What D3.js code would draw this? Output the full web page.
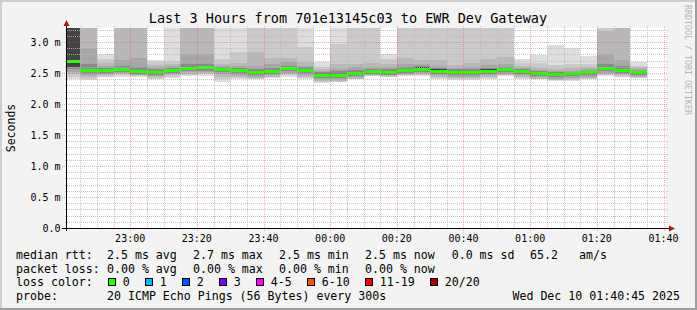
<!DOCTYPE html>
<meta charset="utf-8">
<style>
body { margin: 0; background: #f3f3f3; }
svg { display: block; font-family: 'DejaVu Sans Mono', monospace; }
.minor { stroke: #b8b8b8; stroke-opacity: .8; stroke-dasharray: 1,1; shape-rendering: crispEdges; }
.major { stroke: #ff4040; stroke-opacity: .45; stroke-dasharray: 1,1; shape-rendering: crispEdges; }
.tick { font-size: 10px; fill: #000; }
.legend { font-size: 11.6px; fill: #000; }
</style>
<body>
<svg id="chart" width="697" height="310"></svg>
<script src="https://d3js.org/d3.v7.min.js"></script>
<script>

// one column per 300s step, first one is cut by the window start
var median = [2.69, 2.55, 2.55, 2.565, 2.53, 2.51, 2.55, 2.58, 2.59, 2.565, 2.55, 2.51, 2.53, 2.575, 2.55, 2.47, 2.47, 2.50,
              2.535, 2.52, 2.55, 2.57, 2.54, 2.52, 2.52, 2.54, 2.56, 2.54, 2.50, 2.48, 2.495, 2.515, 2.575, 2.55, 2.52];

// smoke, upper edges (outer -> inner), 3.4 = off the top of the graph
var hi1 = [3.4, 3.4, 2.81, 3.4, 3.4, 2.715, 3.4, 3.4, 3.4, 3.4, 3.4, 3.4, 3.4, 3.4, 3.4, 2.67, 3.4, 3.4,
           3.4, 2.81, 3.4, 3.4, 3.4, 3.4, 3.4, 3.4, 3.4, 2.725, 2.795, 2.956, 2.90, 2.78, 3.4, 3.4, 2.68];
var hi2 = [3.4, 3.4, 2.725, 3.4, 3.4, 2.67, 2.70, 3.4, 3.4, 2.73, 2.84, 3.4, 3.4, 3.4, 2.915, 2.59, 2.97, 3.4,
           3.4, 2.72, 3.4, 3.4, 3.4, 3.4, 3.4, 3.4, 3.4, 2.66, 2.66, 2.63, 2.64, 2.65, 3.4, 3.4, 2.62];
var hi3 = [3.4, 3.4, 2.66, 3.4, 3.4, 2.63, 2.64, 3.4, 3.4, 2.65, 2.66, 2.84, 2.75, 2.75, 2.67, 2.56, 2.64, 2.645,
           2.66, 2.64, 2.74, 2.71, 2.71, 2.63, 2.66, 2.72, 2.76, 2.61, 2.58, 2.57, 2.58, 2.59, 3.17, 3.4, 2.59];
var hi4 = [3.4, 2.91, 2.61, 2.71, 2.75, 2.60, 2.61, 2.81, 2.80, 2.62, 2.61, 2.62, 2.65, 2.67, 2.62, 2.54, 2.57, 2.59,
           2.60, 2.60, 2.64, 2.64, 2.62, 2.58, 2.59, 2.63, 2.65, 2.58, 2.55, 2.53, 2.54, 2.56, 2.80, 2.71, 2.56];
var hi5 = [3.4, 2.64, 2.58, 2.62, 2.60, 2.56, 2.58, 2.64, 2.65, 2.59, 2.58, 2.57, 2.58, 2.62, 2.59, 2.51, 2.53, 2.55,
           2.57, 2.56, 2.59, 2.61, 2.58, 2.56, 2.56, 2.58, 2.60, 2.56, 2.53, 2.51, 2.52, 2.54, 2.64, 2.61, 2.54];
var hi6 = [3.4, 2.57, 2.565, 2.585, 2.55, 2.53, 2.565, 2.60, 2.61, 2.58, 2.565, 2.53, 2.55, 2.595, 2.57, 2.49, 2.49, 2.52,
           2.55, 2.54, 2.57, 2.59, 2.56, 2.54, 2.54, 2.56, 2.58, 2.555, 2.515, 2.495, 2.51, 2.53, 2.595, 2.57, 2.535];

// smoke, lower edges (outer -> inner)
var lo1 = [2.40, 2.385, 2.43, 2.43, 2.44, 2.40, 2.415, 2.45, 2.45, 2.35, 2.40, 2.40, 2.42, 2.43, 2.40, 2.34, 2.35, 2.40,
           2.445, 2.43, 2.45, 2.45, 2.40, 2.39, 2.39, 2.40, 2.45, 2.40, 2.40, 2.37, 2.37, 2.40, 2.445, 2.43, 2.43];
var lo2 = [2.44, 2.41, 2.44, 2.46, 2.45, 2.41, 2.44, 2.47, 2.48, 2.40, 2.42, 2.40, 2.43, 2.46, 2.42, 2.35, 2.35, 2.40,
           2.45, 2.44, 2.46, 2.46, 2.42, 2.40, 2.40, 2.42, 2.46, 2.42, 2.40, 2.38, 2.38, 2.40, 2.46, 2.44, 2.42];
var lo3 = [2.48, 2.44, 2.46, 2.48, 2.46, 2.43, 2.46, 2.49, 2.50, 2.44, 2.44, 2.42, 2.44, 2.48, 2.44, 2.37, 2.37, 2.41,
           2.46, 2.45, 2.47, 2.48, 2.44, 2.42, 2.42, 2.44, 2.47, 2.44, 2.41, 2.39, 2.40, 2.42, 2.48, 2.46, 2.43];
var lo4 = [2.52, 2.47, 2.48, 2.50, 2.47, 2.45, 2.48, 2.51, 2.52, 2.48, 2.47, 2.44, 2.46, 2.50, 2.47, 2.39, 2.39, 2.43,
           2.47, 2.46, 2.485, 2.50, 2.46, 2.44, 2.44, 2.46, 2.49, 2.46, 2.43, 2.41, 2.42, 2.44, 2.50, 2.48, 2.45];
var lo5 = [2.56, 2.50, 2.50, 2.52, 2.485, 2.47, 2.50, 2.53, 2.54, 2.51, 2.50, 2.465, 2.48, 2.525, 2.50, 2.42, 2.42, 2.45,
           2.49, 2.475, 2.505, 2.52, 2.49, 2.47, 2.47, 2.49, 2.515, 2.49, 2.45, 2.43, 2.445, 2.465, 2.525, 2.50, 2.47];
var lo6 = [2.59, 2.525, 2.525, 2.54, 2.505, 2.49, 2.525, 2.555, 2.565, 2.54, 2.525, 2.49, 2.505, 2.55, 2.525, 2.445, 2.445, 2.475,
           2.51, 2.495, 2.525, 2.545, 2.515, 2.495, 2.495, 2.515, 2.535, 2.515, 2.475, 2.455, 2.47, 2.49, 2.55, 2.525, 2.495];

var smokeColors = ["#dddddd", "#cacaca", "#b8b8b8", "#a6a6a6", "#8a8a8a", "#444444"];

var yTicks = [0, 0.5, 1.0, 1.5, 2.0, 2.5, 3.0];

var lossLabels = ["0", "1", "2", "3", "4-5", "6-10", "11-19", "20/20"];
var lossColors = ["#26ff00", "#00b8ff", "#0059ff", "#7e00ff", "#ff00ff", "#ff5500", "#ff0000", "#a10000"];

var rttStats = ["2.5 ms avg", "2.7 ms max", "2.5 ms min", "2.5 ms now", "0.0 ms sd", "65.2", "am/s"];
var lossStats = ["0.00 % avg", "0.00 % max", "0.00 % min", "0.00 % now"];

var tEnd = new Date(Date.UTC(2025, 11, 10, 1, 40, 45));
var tStart = new Date(+tEnd - 3 * 3600e3);
var firstStepEnd = new Date(Date.UTC(2025, 11, 9, 22, 45, 0));
var step = 300e3;

var x0 = 66, x1 = 666, yTop = 28, yBot = 228;

var svg = d3.select("#chart");

var x = d3.scaleUtc().domain([tStart, tEnd]).range([x0, x1]);
var y = d3.scaleLinear().domain([0, 200 / 62]).range([yBot, yTop]).clamp(true);

function colEnd(i) { return new Date(+firstStepEnd + i * step); }
function colStart(i) { return new Date(Math.max(+tStart, +colEnd(i) - step)); }

// frame
svg.append("rect").attr("width", 697).attr("height", 310).attr("fill", "#f3f3f3");
svg.append("rect").attr("x", 0).attr("y", 0).attr("width", 697).attr("height", 2).attr("fill", "#cfcfcf");
svg.append("rect").attr("x", 0).attr("y", 0).attr("width", 2).attr("height", 310).attr("fill", "#cfcfcf");
svg.append("rect").attr("x", 0).attr("y", 308).attr("width", 697).attr("height", 2).attr("fill", "#9e9e9e");
svg.append("rect").attr("x", 695).attr("y", 0).attr("width", 2).attr("height", 310).attr("fill", "#9e9e9e");

svg.append("rect")
  .attr("x", x0).attr("y", yTop)
  .attr("width", x1 - x0).attr("height", yBot - yTop)
  .attr("fill", "#ffffff");

// smoke
var levels = [[hi1, lo1], [hi2, lo2], [hi3, lo3], [hi4, lo4], [hi5, lo5], [hi6, lo6]];
var smoke = svg.append("g").attr("shape-rendering", "crispEdges");
levels.forEach(function(L, k) {
  smoke.append("g").selectAll("rect")
    .data(median)
    .enter().append("rect")
      .attr("x", function(d, i) { return x(colStart(i)); })
      .attr("width", function(d, i) { return x(colEnd(i)) - x(colStart(i)); })
      .attr("y", function(d, i) { return y(L[0][i]); })
      .attr("height", function(d, i) { return y(L[1][i]) - y(L[0][i]); })
      .attr("fill", smokeColors[k]);
});

// median, coloured by loss (all 0 here)
svg.append("g").attr("shape-rendering", "crispEdges").selectAll("rect")
  .data(median)
  .enter().append("rect")
    .attr("x", function(d, i) { return x(colStart(i)); })
    .attr("width", function(d, i) { return x(colEnd(i)) - x(colStart(i)); })
    .attr("y", function(d) { return Math.round(y(d)) - 1; })
    .attr("height", 3)
    .attr("fill", lossColors[0]);

// grid
var grid = svg.append("g");
var yMinor = y.ticks(32).filter(function(v) { return Math.abs(v * 2 - Math.round(v * 2)) > 1e-6; });
grid.selectAll(".hmin").data(yMinor).enter().append("line")
  .attr("class", "minor")
  .attr("x1", x0 - 1).attr("x2", x1 + 2)
  .attr("y1", function(d) { return Math.round(y(d)) + 0.5; })
  .attr("y2", function(d) { return Math.round(y(d)) + 0.5; });

var xMinor = x.ticks(d3.utcMinute.every(5)).filter(function(t) { return t.getUTCMinutes() % 20 != 0; });
grid.selectAll(".vmin").data(xMinor).enter().append("line")
  .attr("class", "minor")
  .attr("y1", yTop - 2).attr("y2", yBot + 1)
  .attr("x1", function(d) { return Math.round(x(d)) + 0.5; })
  .attr("x2", function(d) { return Math.round(x(d)) + 0.5; });

grid.selectAll(".hmaj").data(yTicks.slice(1)).enter().append("line")
  .attr("class", "major")
  .attr("x1", x0 - 4).attr("x2", x1 + 2)
  .attr("y1", function(d) { return Math.round(y(d)) + 0.5; })
  .attr("y2", function(d) { return Math.round(y(d)) + 0.5; });

var xMajor = x.ticks(d3.utcMinute.every(20));
grid.selectAll(".vmaj").data(xMajor).enter().append("line")
  .attr("class", "major")
  .attr("y1", yTop - 2).attr("y2", yBot + 3)
  .attr("x1", function(d) { return Math.round(x(d)) + 0.5; })
  .attr("x2", function(d) { return Math.round(x(d)) + 0.5; });

// axes
var axisY = Math.round(y(0)) + 0.5, axisX = x0 + 0.5;
svg.append("line").attr("x1", x0 - 4).attr("x2", x1 + 4).attr("y1", axisY).attr("y2", axisY)
  .attr("stroke", "#000").attr("shape-rendering", "crispEdges");
svg.append("line").attr("x1", axisX).attr("x2", axisX).attr("y1", yBot + 3).attr("y2", yTop - 4)
  .attr("stroke", "#000").attr("shape-rendering", "crispEdges");
svg.append("path")
  .attr("d", "M" + (x1 + 9) + "," + axisY + "L" + (x1 + 3) + "," + (axisY - 3) + "L" + (x1 + 3) + "," + (axisY + 3) + "Z")
  .attr("fill", "#a01c1c");
svg.append("path")
  .attr("d", "M" + axisX + "," + (yTop - 8) + "L" + (axisX - 3) + "," + (yTop - 2) + "L" + (axisX + 3) + "," + (yTop - 2) + "Z")
  .attr("fill", "#a01c1c");

svg.append("g").selectAll("text")
  .data(yTicks).enter().append("text")
    .attr("class", "tick")
    .attr("x", 60.5)
    .attr("y", function(d) { return y(d) + 3.7; })
    .attr("text-anchor", "end")
    .text(function(d) { return d == 0 ? "0.0" : d.toFixed(1) + " m"; });

var fmt = d3.utcFormat("%H:%M");
svg.append("g").selectAll("text")
  .data(xMajor).enter().append("text")
    .attr("class", "tick")
    .attr("x", function(d) { return x(d); })
    .attr("y", 242)
    .attr("text-anchor", "middle")
    .text(fmt);

svg.append("text")
  .attr("transform", "translate(15,128) rotate(-90)")
  .attr("text-anchor", "middle")
  .style("font-size", "11.5px")
  .text("Seconds");

svg.append("text")
  .attr("x", 348).attr("y", 23)
  .attr("text-anchor", "middle")
  .style("font-size", "13.5px")
  .text("Last 3 Hours from 701e13145c03 to EWR Dev Gateway");

svg.append("text")
  .attr("transform", "translate(685,5) rotate(90)")
  .style("font-size", "8.3px")
  .attr("fill", "#b4b4b4")
  .text("RRDTOOL / TOBI OETIKER");

// legend
var leg = svg.append("g").attr("class", "legend");
var statX = [107, 193, 279, 365, 451.7, 530, 579];

leg.append("text").attr("x", 16).attr("y", 258.5).text("median rtt:");
leg.selectAll(".rtt").data(rttStats).enter().append("text")
  .attr("x", function(d, i) { return statX[i]; }).attr("y", 258.5).text(function(d) { return d; });

leg.append("text").attr("x", 16).attr("y", 272.5).text("packet loss:");
leg.selectAll(".loss").data(lossStats).enter().append("text")
  .attr("x", function(d, i) { return statX[i]; }).attr("y", 272.5).text(function(d) { return d; });

leg.append("text").attr("x", 16).attr("y", 286).text("loss color:");
var bx = 108.5;
lossLabels.forEach(function(lbl, i) {
  leg.append("rect")
    .attr("x", bx).attr("y", 278.5).attr("width", 7).attr("height", 7)
    .attr("fill", lossColors[i]).attr("stroke", "#000").attr("shape-rendering", "crispEdges");
  var t = leg.append("text").attr("x", bx + 14.3).attr("y", 286).text(lbl);
  bx = Math.round(bx + 14.3 + t.node().getComputedTextLength() + 15.7) + 0.5;
});

leg.append("text").attr("x", 16).attr("y", 300).text("probe:");
leg.append("text").attr("x", 107).attr("y", 300).text("20 ICMP Echo Pings (56 Bytes) every 300s");
leg.append("text").attr("x", 680).attr("y", 300).attr("text-anchor", "end").text("Wed Dec 10 01:40:45 2025");

</script>
</body>
